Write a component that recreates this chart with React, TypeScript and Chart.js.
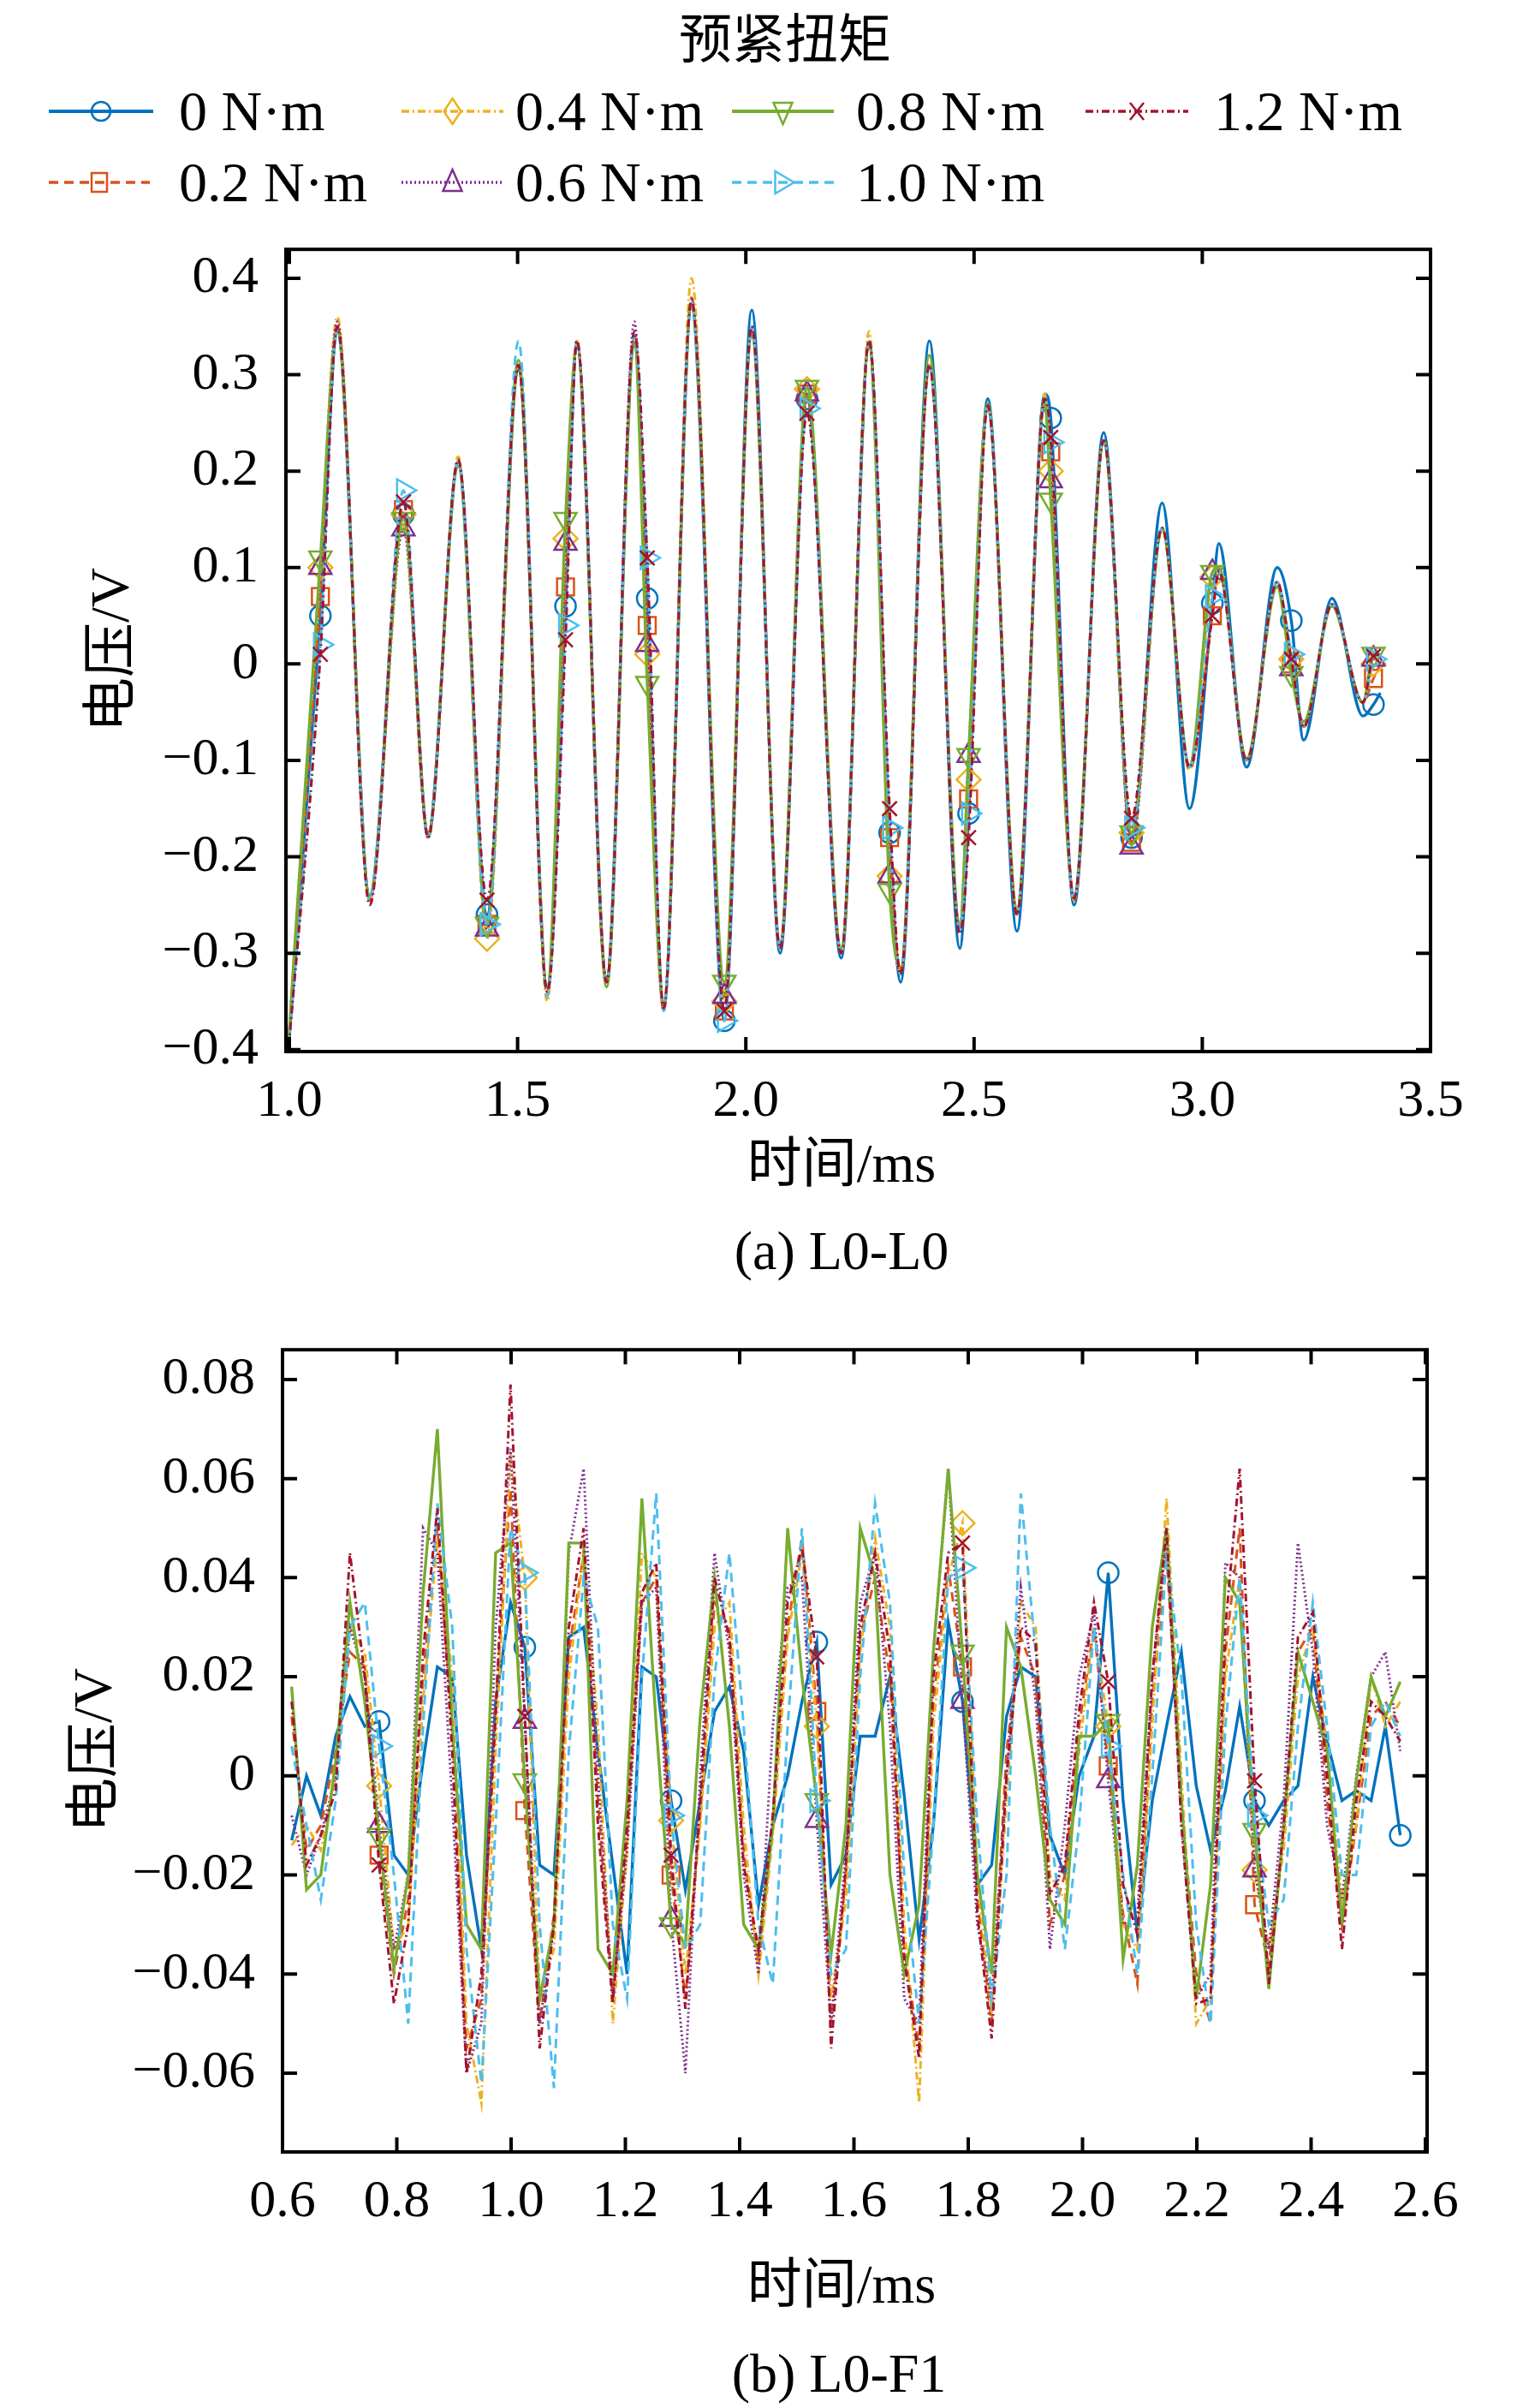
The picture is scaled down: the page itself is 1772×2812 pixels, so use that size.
import React, { useEffect, useRef } from 'react';
import { Chart, registerables } from 'chart.js';

Chart.register(...registerables);

const FONT = "'Liberation Serif', 'Times New Roman', 'Noto Sans CJK SC', serif";

// series: pre-tightening torque
const seriesLabels = ['0 N·m', '0.2 N·m', '0.4 N·m', '0.6 N·m', '0.8 N·m', '1.0 N·m', '1.2 N·m'];
const seriesColors = ['#0072BD', '#D95319', '#EDB120', '#7E2F8E', '#77AC30', '#4DBEEE', '#A2142F'];
const seriesDashes: number[][] = [[], [11, 7], [9, 4, 2, 4], [2, 3], [], [11, 7], [9, 4, 2, 4]];
const seriesMarkers = ['circle', 'square', 'diamond', 'triangleUp', 'triangleDown', 'triangleRight', 'cross'];

// (a) L0-L0  time in ms, voltage in V
const timeA = [
  0.993, 1.068, 1.105, 1.176, 1.250, 1.304, 1.370, 1.433, 1.502, 1.565,
  1.605, 1.630, 1.695, 1.756, 1.784, 1.820, 1.881, 1.953, 2.013, 2.075,
  2.134, 2.209, 2.270, 2.315, 2.339, 2.402, 2.469, 2.488, 2.530, 2.594,
  2.655, 2.668, 2.719, 2.784, 2.845, 2.912, 2.972, 3.022, 3.036, 3.097,
  3.164, 3.195, 3.222, 3.284, 3.352, 3.375, 3.390,
];
const markerIdxA = [1, 4, 7, 10, 14, 17, 20, 23, 27, 31, 34, 37, 41, 45];

const voltA0 = [
  -0.43, 0.05, 0.345, -0.24, 0.155, -0.175, 0.21, -0.26, 0.305, -0.335,
  0.06, 0.33, -0.325, 0.335, 0.068, -0.355, 0.37, -0.37, 0.367, -0.3,
  0.275, -0.305, 0.33, -0.175, -0.33, 0.335, -0.295, -0.155, 0.275, -0.277,
  0.28, 0.255, -0.25, 0.24, -0.18, 0.167, -0.15, 0.063, 0.125, -0.107,
  0.1, 0.045, -0.079, 0.068, -0.054, -0.042, -0.03,
];
const voltA1 = [
  -0.43, 0.07, 0.35, -0.245, 0.16, -0.18, 0.21, -0.27, 0.31, -0.34,
  0.08, 0.335, -0.33, 0.34, 0.04, -0.36, 0.38, -0.36, 0.35, -0.295,
  0.28, -0.3, 0.335, -0.18, -0.32, 0.31, -0.275, -0.14, 0.268, -0.26,
  0.275, 0.22, -0.245, 0.232, -0.185, 0.14, -0.11, 0.05, 0.095, -0.1,
  0.085, 0.0, -0.065, 0.062, -0.04, -0.015, 0.0,
];
const voltA2 = [
  -0.43, 0.10, 0.36, -0.245, 0.155, -0.18, 0.215, -0.285, 0.31, -0.35,
  0.13, 0.335, -0.33, 0.34, 0.01, -0.36, 0.4, -0.35, 0.35, -0.29,
  0.285, -0.3, 0.345, -0.22, -0.32, 0.31, -0.275, -0.12, 0.268, -0.255,
  0.28, 0.2, -0.245, 0.232, -0.175, 0.14, -0.11, 0.09, 0.1, -0.1,
  0.085, 0.005, -0.065, 0.06, -0.04, 0.0, 0.01,
];
const voltA3 = [
  -0.43, 0.10, 0.355, -0.245, 0.14, -0.18, 0.21, -0.275, 0.31, -0.34,
  0.125, 0.335, -0.33, 0.355, 0.02, -0.357, 0.375, -0.345, 0.35, -0.295,
  0.28, -0.3, 0.335, -0.22, -0.322, 0.31, -0.275, -0.095, 0.268, -0.26,
  0.275, 0.19, -0.243, 0.232, -0.19, 0.141, -0.107, 0.095, 0.1, -0.1,
  0.085, -0.005, -0.065, 0.062, -0.04, 0.005, 0.01,
];
const voltA4 = [
  -0.43, 0.11, 0.345, -0.24, 0.15, -0.175, 0.205, -0.27, 0.315, -0.335,
  0.15, 0.33, -0.335, 0.33, -0.02, -0.35, 0.37, -0.33, 0.34, -0.29,
  0.287, -0.295, 0.33, -0.235, -0.315, 0.32, -0.27, -0.095, 0.27, -0.255,
  0.27, 0.17, -0.24, 0.23, -0.175, 0.14, -0.105, 0.095, 0.1, -0.098,
  0.08, -0.01, -0.06, 0.06, -0.04, 0.01, 0.01,
];
const voltA5 = [
  -0.43, 0.02, 0.345, -0.245, 0.18, -0.18, 0.21, -0.27, 0.335, -0.345,
  0.04, 0.335, -0.33, 0.34, 0.11, -0.36, 0.375, -0.37, 0.35, -0.295,
  0.265, -0.3, 0.335, -0.17, -0.322, 0.31, -0.275, -0.155, 0.268, -0.26,
  0.275, 0.23, -0.243, 0.232, -0.17, 0.141, -0.107, 0.07, 0.096, -0.1,
  0.085, 0.01, -0.065, 0.062, -0.04, 0.005, 0.01,
];
const voltA6 = [
  -0.43, 0.01, 0.35, -0.25, 0.168, -0.18, 0.212, -0.245, 0.31, -0.34,
  0.025, 0.335, -0.33, 0.345, 0.11, -0.357, 0.378, -0.36, 0.35, -0.295,
  0.26, -0.3, 0.335, -0.15, -0.322, 0.31, -0.28, -0.18, 0.268, -0.26,
  0.275, 0.235, -0.243, 0.232, -0.16, 0.141, -0.107, 0.05, 0.096, -0.1,
  0.085, 0.005, -0.065, 0.062, -0.04, 0.008, 0.01,
];

// (b) L0-F1
const timeB = [
  0.616, 0.642, 0.667, 0.693, 0.718, 0.744, 0.769, 0.795, 0.820, 0.846,
  0.871, 0.897, 0.922, 0.948, 0.973, 0.999, 1.024, 1.050, 1.075, 1.101,
  1.127, 1.152, 1.178, 1.203, 1.229, 1.254, 1.280, 1.305, 1.331, 1.356,
  1.382, 1.407, 1.433, 1.458, 1.484, 1.509, 1.535, 1.560, 1.586, 1.611,
  1.637, 1.663, 1.688, 1.714, 1.739, 1.765, 1.790, 1.816, 1.841, 1.867,
  1.892, 1.918, 1.943, 1.969, 1.994, 2.020, 2.045, 2.071, 2.096, 2.122,
  2.147, 2.173, 2.199, 2.224, 2.250, 2.275, 2.301, 2.326, 2.352, 2.377,
  2.403, 2.428, 2.454, 2.479, 2.505, 2.530, 2.556,
];
const markerIdxB = [6, 16, 26, 36, 46, 56, 66];
const markerIdxB0 = [6, 16, 26, 36, 46, 56, 66, 76];

const voltB0 = [
  -0.013, 0.000, -0.008, 0.008, 0.016, 0.010, 0.011, -0.016, -0.020, 0.003,
  0.022, 0.020, -0.016, -0.035, 0.015, 0.035, 0.026, -0.018, -0.020, 0.028,
  0.030, 0.005, -0.018, -0.040, 0.022, 0.020, -0.005, -0.023, -0.005, 0.013,
  0.018, 0.005, -0.026, -0.010, 0.000, 0.015, 0.027, -0.022, -0.016, 0.008,
  0.008, 0.020, -0.004, -0.033, -0.010, 0.031, 0.015, -0.022, -0.018, 0.012,
  0.022, 0.020, -0.012, -0.020, 0.000, 0.008, 0.041, -0.005, -0.032, -0.005,
  0.010, 0.025, -0.002, -0.015, -0.003, 0.014, -0.005, -0.010, -0.005, -0.002,
  0.020, 0.007, -0.005, -0.003, -0.005, 0.010, -0.012,
];
const voltB1 = [
  0.012, -0.015, -0.010, 0.005, 0.025, 0.022, -0.016, -0.040, -0.025, 0.020,
  0.050, 0.010, -0.055, -0.045, 0.015, 0.058, -0.007, -0.050, -0.028, 0.025,
  0.045, -0.005, -0.045, -0.012, 0.035, 0.040, -0.020, -0.045, -0.008, 0.035,
  0.030, -0.015, -0.038, -0.010, 0.030, 0.048, 0.013, -0.050, -0.020, 0.028,
  0.040, 0.020, -0.035, -0.055, 0.015, 0.042, 0.022, -0.025, -0.050, 0.005,
  0.028, 0.020, -0.030, -0.020, 0.010, 0.030, 0.002, -0.028, -0.042, 0.015,
  0.045, -0.005, -0.040, -0.050, 0.025, 0.050, -0.026, -0.038, -0.012, 0.025,
  0.030, -0.005, -0.030, -0.010, 0.012, 0.015, 0.010,
];
const voltB2 = [
  -0.014, -0.010, -0.015, 0.000, 0.030, 0.025, -0.002, -0.035, -0.030, 0.015,
  0.048, 0.020, -0.050, -0.066, 0.005, 0.065, 0.040, -0.045, -0.035, 0.020,
  0.045, 0.010, -0.050, -0.015, 0.045, 0.040, -0.009, -0.040, -0.010, 0.030,
  0.035, -0.010, -0.040, -0.012, 0.028, 0.045, 0.010, -0.045, -0.025, 0.025,
  0.048, 0.030, -0.030, -0.066, 0.010, 0.040, 0.051, -0.020, -0.048, -0.005,
  0.035, 0.030, -0.020, -0.025, 0.005, 0.030, 0.010, -0.030, -0.035, 0.010,
  0.056, 0.000, -0.050, -0.045, 0.020, 0.040, -0.019, -0.035, -0.015, 0.020,
  0.030, 0.005, -0.025, -0.010, 0.020, 0.010, 0.015,
];
const voltB3 = [
  -0.008, -0.020, -0.012, 0.000, 0.030, 0.020, -0.010, -0.035, -0.020, 0.050,
  0.045, -0.005, -0.060, -0.050, 0.030, 0.066, 0.011, -0.050, -0.030, 0.045,
  0.062, 0.000, -0.045, -0.015, 0.035, 0.038, -0.029, -0.060, 0.000, 0.045,
  0.025, -0.020, -0.040, 0.010, 0.038, 0.040, -0.009, -0.050, -0.015, 0.035,
  0.045, 0.010, -0.045, -0.050, 0.025, 0.062, 0.015, -0.030, -0.045, 0.000,
  0.038, 0.015, -0.035, -0.010, 0.020, 0.033, -0.001, -0.030, -0.028, 0.020,
  0.048, -0.010, -0.045, -0.040, 0.043, 0.040, -0.019, -0.035, -0.005, 0.047,
  0.025, -0.010, -0.025, 0.000, 0.020, 0.025, 0.005,
];
const voltB4 = [
  0.018, -0.023, -0.020, 0.003, 0.035, 0.015, -0.012, -0.039, -0.020, 0.037,
  0.070, 0.010, -0.030, -0.035, 0.045, 0.047, -0.001, -0.045, -0.030, 0.047,
  0.047, -0.035, -0.040, -0.005, 0.056, 0.010, -0.030, -0.034, 0.012, 0.040,
  0.010, -0.030, -0.035, -0.010, 0.050, 0.020, -0.005, -0.036, -0.010, 0.050,
  0.040, -0.020, -0.040, -0.026, 0.025, 0.062, 0.025, -0.020, -0.040, 0.030,
  0.022, 0.000, -0.025, -0.030, 0.008, 0.008, 0.011, -0.037, -0.018, 0.030,
  0.050, -0.005, -0.045, -0.022, 0.040, 0.035, -0.011, -0.043, -0.010, 0.025,
  0.015, 0.005, -0.030, -0.001, 0.020, 0.012, 0.019,
];
const voltB5 = [
  0.006, -0.010, -0.025, -0.005, 0.030, 0.035, 0.006, -0.020, -0.050, 0.010,
  0.055, 0.030, -0.035, -0.062, -0.010, 0.050, 0.041, -0.030, -0.063, 0.005,
  0.040, 0.030, -0.030, -0.045, 0.020, 0.057, -0.008, -0.035, -0.030, 0.020,
  0.045, 0.010, -0.030, -0.042, 0.010, 0.050, -0.005, -0.040, -0.035, 0.020,
  0.055, 0.035, -0.020, -0.050, -0.010, 0.040, 0.042, -0.010, -0.045, -0.020,
  0.057, 0.025, -0.010, -0.035, -0.010, 0.030, 0.006, -0.020, -0.040, 0.000,
  0.045, 0.020, -0.030, -0.050, 0.010, 0.040, -0.008, -0.030, -0.025, 0.010,
  0.035, 0.010, -0.020, -0.020, 0.010, 0.015, 0.008,
];
const voltB6 = [
  0.015, -0.018, -0.012, -0.003, 0.045, 0.020, -0.018, -0.046, -0.030, 0.025,
  0.054, 0.005, -0.060, -0.040, 0.012, 0.079, 0.012, -0.055, -0.030, 0.030,
  0.050, -0.010, -0.046, -0.010, 0.037, 0.043, -0.016, -0.047, -0.005, 0.040,
  0.028, -0.018, -0.035, -0.008, 0.035, 0.046, 0.024, -0.055, -0.018, 0.030,
  0.045, 0.025, -0.037, -0.057, 0.020, 0.045, 0.047, -0.028, -0.053, 0.000,
  0.030, 0.027, -0.024, -0.018, 0.013, 0.035, 0.019, -0.022, -0.032, 0.020,
  0.050, -0.010, -0.046, -0.045, 0.030, 0.062, -0.001, -0.042, -0.010, 0.028,
  0.033, 0.000, -0.035, -0.005, 0.015, 0.012, 0.007,
];

const xTicksA = [1.0, 1.5, 2.0, 2.5, 3.0, 3.5];
const yTicksA = [-0.4, -0.3, -0.2, -0.1, 0, 0.1, 0.2, 0.3, 0.4];
const xTicksB = [0.6, 0.8, 1.0, 1.2, 1.4, 1.6, 1.8, 2.0, 2.2, 2.4, 2.6];
const yTicksB = [-0.06, -0.04, -0.02, 0, 0.02, 0.04, 0.06, 0.08];

const fmt = (v: number, digits: number) =>
  Math.abs(v) < 1e-9 ? '0' : (v < 0 ? '\u2212' : '') + Math.abs(v).toFixed(digits);

// chart.js point style for each marker kind
const markerStyle: Record<string, { style: string; rotation: number; radius: number }> = {
  circle: { style: 'circle', rotation: 0, radius: 12 },
  square: { style: 'rect', rotation: 0, radius: 14 },
  diamond: { style: 'rectRot', rotation: 0, radius: 14 },
  triangleUp: { style: 'triangle', rotation: 0, radius: 15 },
  triangleDown: { style: 'triangle', rotation: 180, radius: 15 },
  triangleRight: { style: 'triangle', rotation: 90, radius: 15 },
  cross: { style: 'crossRot', rotation: 0, radius: 12 },
};

// box with inward ticks on all four sides
const frameTicks = {
  id: 'frameTicks',
  afterDatasetsDraw(chart: any) {
    const { ctx, chartArea } = chart;
    const { left, right, top, bottom } = chartArea;
    const xs = chart.scales.x;
    const ys = chart.scales.y;
    const len = 17;
    ctx.save();
    ctx.strokeStyle = '#000';
    ctx.lineWidth = 4;
    ctx.setLineDash([]);
    ctx.beginPath();
    xs.ticks.forEach((t: any) => {
      const px = xs.getPixelForValue(t.value);
      if (px > left + 2 && px < right - 2) {
        ctx.moveTo(px, bottom);
        ctx.lineTo(px, bottom - len);
        ctx.moveTo(px, top);
        ctx.lineTo(px, top + len);
      }
    });
    ys.ticks.forEach((t: any) => {
      const py = ys.getPixelForValue(t.value);
      if (py > top + 2 && py < bottom - 2) {
        ctx.moveTo(left, py);
        ctx.lineTo(left + len, py);
        ctx.moveTo(right, py);
        ctx.lineTo(right - len, py);
      }
    });
    ctx.stroke();
    ctx.strokeRect(left, top, right - left, bottom - top);
    ctx.restore();
  },
};

interface PanelProps {
  top: number;
  times: number[];
  volts: number[][];
  marks: number[][];
  xMin: number;
  xMax: number;
  yMin: number;
  yMax: number;
  xTicks: number[];
  yTicks: number[];
  xDigits: number;
  yDigits: number;
  yAxisWidth: number;
  rightPad: number;
  smooth: boolean;
}

const CANVAS_H = 1140;

const Panel = (p: PanelProps) => {
  const canvasRef = useRef<HTMLCanvasElement>(null);

  useEffect(() => {
    const canvas = canvasRef.current;
    if (!canvas) return;

    const tickFont = { family: FONT, size: 62 };

    const chart = new Chart(canvas, {
      type: 'line',
      data: {
        datasets: p.volts.map((vals, i) => {
          const m = markerStyle[seriesMarkers[i]];
          return {
            label: seriesLabels[i],
            data: p.times.map((t, k) => ({ x: t, y: vals[k] })),
            borderColor: seriesColors[i],
            borderWidth: i === 0 || i === 4 ? 3.4 : 3,
            borderDash: seriesDashes[i],
            fill: false,
            tension: 0,
            cubicInterpolationMode: p.smooth ? 'monotone' : 'default',
            pointStyle: m.style,
            pointRotation: m.rotation,
            pointRadius: (c: any) => (p.marks[i].includes(c.dataIndex) ? m.radius : 0),
            pointBorderColor: seriesColors[i],
            pointBackgroundColor: 'rgba(0,0,0,0)',
            pointBorderWidth: 2.5,
            order: 10 - i,
          };
        }),
      } as any,
      options: {
        responsive: false,
        animation: false,
        devicePixelRatio: 1,
        events: [],
        layout: { padding: { top: 60, right: p.rightPad, left: 0, bottom: 0 } },
        plugins: {
          legend: { display: false },
          tooltip: { enabled: false },
        },
        scales: {
          x: {
            type: 'linear',
            min: p.xMin,
            max: p.xMax,
            grid: { display: false },
            border: { display: false },
            afterBuildTicks: (s: any) => {
              s.ticks = p.xTicks.map((v) => ({ value: v }));
            },
            afterFit: (s: any) => {
              s.height = 142;
            },
            ticks: {
              autoSkip: false,
              maxRotation: 0,
              padding: 14,
              color: '#000',
              font: tickFont,
              callback: (v: any) => fmt(Number(v), p.xDigits),
            },
          },
          y: {
            type: 'linear',
            min: p.yMin,
            max: p.yMax,
            grid: { display: false },
            border: { display: false },
            afterBuildTicks: (s: any) => {
              s.ticks = p.yTicks.map((v) => ({ value: v }));
            },
            afterFit: (s: any) => {
              s.width = p.yAxisWidth;
            },
            ticks: {
              autoSkip: false,
              padding: 24,
              color: '#000',
              font: tickFont,
              callback: (v: any) => fmt(Number(v), p.yDigits),
            },
          },
        },
      } as any,
      plugins: [frameTicks],
    });

    return () => {
      chart.destroy();
    };
  }, []);

  return (
    <canvas
      ref={canvasRef}
      width={1772}
      height={CANVAS_H}
      style={{ position: 'absolute', left: 0, top: p.top, width: 1772, height: CANVAS_H }}
    />
  );
};

const Label = ({ x, y, size = 64, rotate = false, children }: any) => (
  <div
    style={{
      position: 'absolute',
      left: x,
      top: y,
      transform: `translate(-50%, -50%)${rotate ? ' rotate(-90deg)' : ''}`,
      fontSize: size,
      lineHeight: 1,
      whiteSpace: 'nowrap',
      color: '#000',
      fontFamily: FONT,
    }}
  >
    {children}
  </div>
);

const MarkerSvg = ({ kind, cx, cy, color }: { kind: string; cx: number; cy: number; color: string }) => {
  const common = { fill: 'none', stroke: color, strokeWidth: 2.5 };
  switch (kind) {
    case 'circle':
      return <circle cx={cx} cy={cy} r={11} {...common} />;
    case 'square':
      return <rect x={cx - 9} y={cy - 11} width={18} height={22} {...common} />;
    case 'diamond':
      return <polygon points={`${cx},${cy - 15} ${cx + 10},${cy} ${cx},${cy + 15} ${cx - 10},${cy}`} {...common} />;
    case 'triangleUp':
      return <polygon points={`${cx},${cy - 15} ${cx + 11},${cy + 10} ${cx - 11},${cy + 10}`} {...common} />;
    case 'triangleDown':
      return <polygon points={`${cx},${cy + 15} ${cx + 11},${cy - 10} ${cx - 11},${cy - 10}`} {...common} />;
    case 'triangleRight':
      return <polygon points={`${cx + 13},${cy} ${cx - 9},${cy - 13} ${cx - 9},${cy + 13}`} {...common} />;
    default:
      return (
        <g {...common}>
          <line x1={cx - 8} y1={cy - 10} x2={cx + 8} y2={cy + 10} />
          <line x1={cx - 8} y1={cy + 10} x2={cx + 8} y2={cy - 10} />
        </g>
      );
  }
};

// legend slots: [series index, line start, line end, text left, row centre]
const legendSlots = [
  [0, 57, 179, 209, 130],
  [1, 57, 175, 209, 213],
  [2, 469, 588, 602, 130],
  [3, 469, 588, 602, 213],
  [4, 855, 974, 1000, 130],
  [5, 855, 974, 1000, 213],
  [6, 1268, 1388, 1418, 130],
];

const Legend = () => (
  <>
    <Label x={917} y={47} size={62}>预紧扭矩</Label>
    {legendSlots.map(([i, x1, x2, tx, y]) => {
      const w = x2 - x1;
      return (
        <React.Fragment key={i}>
          <svg style={{ position: 'absolute', left: x1, top: y - 20 }} width={w} height={40}>
            <line
              x1={0}
              y1={20}
              x2={w}
              y2={20}
              stroke={seriesColors[i]}
              strokeWidth={i === 0 || i === 4 ? 4 : 3.5}
              strokeDasharray={seriesDashes[i].length ? seriesDashes[i].join(' ') : undefined}
            />
            <MarkerSvg kind={seriesMarkers[i]} cx={w / 2} cy={20} color={seriesColors[i]} />
          </svg>
          <div
            style={{
              position: 'absolute',
              left: tx,
              top: y,
              transform: 'translateY(-50%)',
              fontSize: 66,
              lineHeight: 1,
              whiteSpace: 'nowrap',
              fontFamily: FONT,
              color: '#000',
            }}
          >
            {seriesLabels[i]}
          </div>
        </React.Fragment>
      );
    })}
  </>
);

export default function App() {
  return (
    <div
      style={{
        position: 'absolute',
        left: 0,
        top: 0,
        width: 1772,
        height: 2812,
        background: '#fff',
        overflow: 'hidden',
      }}
    >
      <Panel
        top={230}
        times={timeA}
        volts={[voltA0, voltA1, voltA2, voltA3, voltA4, voltA5, voltA6]}
        marks={[markerIdxA, markerIdxA, markerIdxA, markerIdxA, markerIdxA, markerIdxA, markerIdxA]}
        xMin={0.9925}
        xMax={3.5}
        yMin={-0.402}
        yMax={0.43}
        xTicks={xTicksA}
        yTicks={yTicksA}
        xDigits={1}
        yDigits={1}
        yAxisWidth={334}
        rightPad={101}
        smooth={true}
      />
      <Panel
        top={1515}
        times={timeB}
        volts={[voltB0, voltB1, voltB2, voltB3, voltB4, voltB5, voltB6]}
        marks={[markerIdxB0, markerIdxB, markerIdxB, markerIdxB, markerIdxB, markerIdxB, markerIdxB]}
        xMin={0.6}
        xMax={2.603}
        yMin={-0.0759}
        yMax={0.086}
        xTicks={xTicksB}
        yTicks={yTicksB}
        xDigits={1}
        yDigits={2}
        yAxisWidth={330}
        rightPad={105}
        smooth={false}
      />
      <Legend />
      <Label x={129} y={759} rotate>电压/V</Label>
      <Label x={983} y={1359}>时间/ms</Label>
      <Label x={983} y={1461}>(a) L0-L0</Label>
      <Label x={109} y={2044} rotate>电压/V</Label>
      <Label x={983} y={2668}>时间/ms</Label>
      <Label x={980} y={2772}>(b) L0-F1</Label>
    </div>
  );
}
